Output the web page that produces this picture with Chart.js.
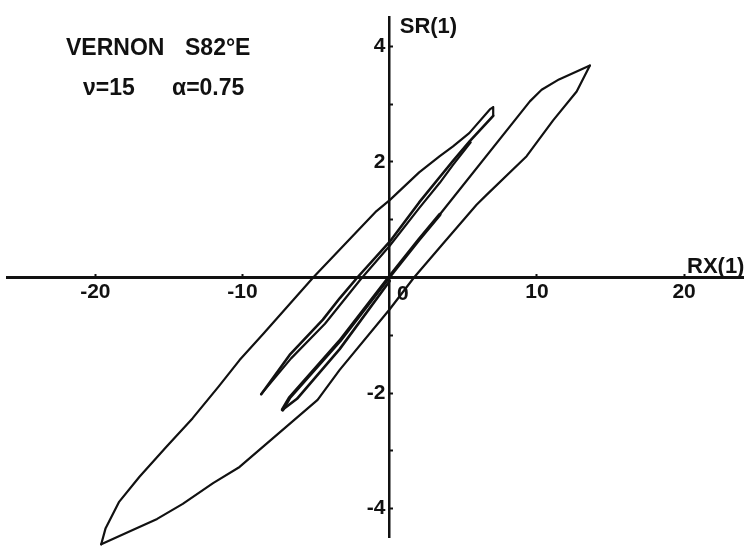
<!DOCTYPE html>
<html>
<head>
<meta charset="utf-8">
<script src="https://cdn.jsdelivr.net/npm/chart.js@4/dist/chart.umd.min.js"></script>
<style>
  html, body { margin: 0; padding: 0; background: #ffffff; }
  #wrap { width: 755px; height: 555px; }
</style>
</head>
<body>
<div id="wrap"><canvas id="c" width="755" height="555"></canvas></div>
<script>
// Hysteresis trace SR(1) against RX(1), Vernon S82°E record.
// Each array holds [RX, SR] pairs of one stroke of the trace.

// rising envelope from the negative peak to the first positive reversal
const envelopeUp = [
  [-19.6, -4.62], [-19.3, -4.34], [-18.4, -3.89], [-17.0, -3.45], [-15.2, -2.94],
  [-13.4, -2.44], [-11.6, -1.88], [-10.2, -1.43], [-8.6, -0.98], [-5.2, 0.0],
  [-0.9, 1.15], [0.0, 1.34], [2.0, 1.82], [3.4, 2.1], [4.3, 2.27], [5.4, 2.5],
  [6.8, 2.91], [7.03, 2.95], [7.03, 2.8]
];

// narrow loop after the first positive reversal: down stroke and its return
const sliverDown = [
  [7.03, 2.8], [5.44, 2.36], [4.3, 2.02], [3.4, 1.74], [2.0, 1.3], [0.0, 0.62],
  [-2.2, 0.0], [-3.4, -0.36], [-4.54, -0.73], [-6.8, -1.34], [-8.73, -2.02]
];
const sliverBack = [
  [-8.73, -2.02], [-6.7, -1.4], [-4.4, -0.8], [-2.0, -0.04], [0.0, 0.55],
  [2.0, 1.2], [3.4, 1.64], [4.3, 1.95], [5.5, 2.34]
];

// inner loop reaching the origin region
const innerDown = [
  [3.4, 1.09], [2.0, 0.66], [0.0, 0.02], [-3.4, -1.1], [-6.8, -2.08], [-7.28, -2.29]
];
const innerBack = [
  [-7.28, -2.29], [-6.3, -2.1], [-3.4, -1.24], [0.0, -0.06]
];

// stroke from the inner loop out to the positive peak
const toPositivePeak = [
  [3.4, 1.09], [9.52, 3.05], [10.32, 3.25], [11.5, 3.43], [13.6, 3.67]
];

// descending branch from the positive peak back to the negative peak
const envelopeDown = [
  [13.6, 3.67], [12.7, 3.22], [11.1, 2.72], [9.3, 2.1], [6.58, 1.43], [5.9, 1.26],
  [3.63, 0.59], [1.65, 0.0], [0.0, -0.55], [-3.4, -1.6], [-4.9, -2.12],
  [-10.2, -3.28], [-12.0, -3.56], [-14.06, -3.92], [-15.8, -4.18], [-17.46, -4.37],
  [-19.6, -4.62]
];

const xTickValues = [-20, -10, 10, 20];
const yTickValues = [-4, -3, -2, -1, 1, 2, 3, 4];
const yLabelValues = [-4, -2, 2, 4];

const titleLine1 = ['VERNON', 'S82°E'];
const titleLine2 = ['ν=15', 'α=0.75'];
const xAxisTitle = 'RX(1)';
const yAxisTitle = 'SR(1)';

const INK = '#111111';
const LETTERING = '"Liberation Sans", Arial, sans-serif';

function toPoints(arr) { return arr.map(p => ({ x: p[0], y: p[1] })); }
function stroke(arr, width) {
  return {
    data: toPoints(arr),
    showLine: true,
    borderColor: INK,
    borderWidth: width,
    pointRadius: 0,
    tension: 0,
    fill: false,
    clip: false,
    borderJoinStyle: 'round',
    borderCapStyle: 'round'
  };
}

const annotations = {
  id: 'annotations',
  afterDraw(chart) {
    const ctx = chart.ctx;
    const xs = chart.scales.x, ys = chart.scales.y;
    const x0 = xs.getPixelForValue(0), y0 = ys.getPixelForValue(0);
    ctx.save();
    ctx.fillStyle = INK;
    ctx.textBaseline = 'alphabetic';
    ctx.textAlign = 'left';
    ctx.font = 'bold 23px ' + LETTERING;
    ctx.fillText(titleLine1[0], 66, 55);
    ctx.fillText(titleLine1[1], 185, 55);
    ctx.fillText(titleLine2[0], 83, 95);
    ctx.fillText(titleLine2[1], 172, 95);
    ctx.font = 'bold 22px ' + LETTERING;
    ctx.fillText(yAxisTitle, x0 + 10, 33);
    ctx.fillText(xAxisTitle, 687, y0 - 5);
    ctx.font = 'bold 21px ' + LETTERING;
    ctx.textAlign = 'center';
    ctx.fillText('0', x0 + 13, y0 + 22);
    ctx.restore();
  }
};

new Chart(document.getElementById('c'), {
  type: 'scatter',
  data: {
    datasets: [
      stroke(envelopeUp, 2.2),
      stroke(sliverDown, 2.6),
      stroke(sliverBack, 2.2),
      stroke(innerDown, 3.6),
      stroke(innerBack, 2.6),
      stroke(toPositivePeak, 2.2),
      stroke(envelopeDown, 2.2)
    ]
  },
  options: {
    responsive: false,
    animation: false,
    devicePixelRatio: 1,
    layout: { padding: { left: 7, right: 12, top: 7, bottom: 12 } },
    plugins: { legend: { display: false }, tooltip: { enabled: false }, title: { display: false } },
    scales: {
      x: {
        type: 'linear',
        min: -26,
        max: 24,
        position: { y: 0 },
        afterFit(scale) { scale.height = 0; },
        afterBuildTicks(scale) { scale.ticks = xTickValues.map(v => ({ value: v })); },
        border: { display: true, color: INK, width: 3 },
        grid: { display: true, drawOnChartArea: false, drawTicks: true, tickLength: -5, tickWidth: 2, tickColor: INK },
        ticks: {
          color: INK,
          padding: 7,
          maxRotation: 0,
          autoSkip: false,
          font: { family: LETTERING, weight: 'bold', size: 21 },
          callback: v => String(v)
        }
      },
      y: {
        type: 'linear',
        min: -4.5,
        max: 4.5,
        position: { x: 0 },
        afterFit(scale) { scale.width = 0; },
        afterBuildTicks(scale) { scale.ticks = yTickValues.map(v => ({ value: v })); },
        border: { display: true, color: INK, width: 2.5 },
        grid: { display: true, drawOnChartArea: false, drawTicks: true, tickLength: -5, tickWidth: 2, tickColor: INK },
        ticks: {
          color: INK,
          padding: 5,
          autoSkip: false,
          font: { family: LETTERING, weight: 'bold', size: 21 },
          callback: v => (yLabelValues.includes(v) ? String(v) + '\u2009' : '')
        }
      }
    }
  },
  plugins: [annotations]
});
</script>
</body>
</html>
